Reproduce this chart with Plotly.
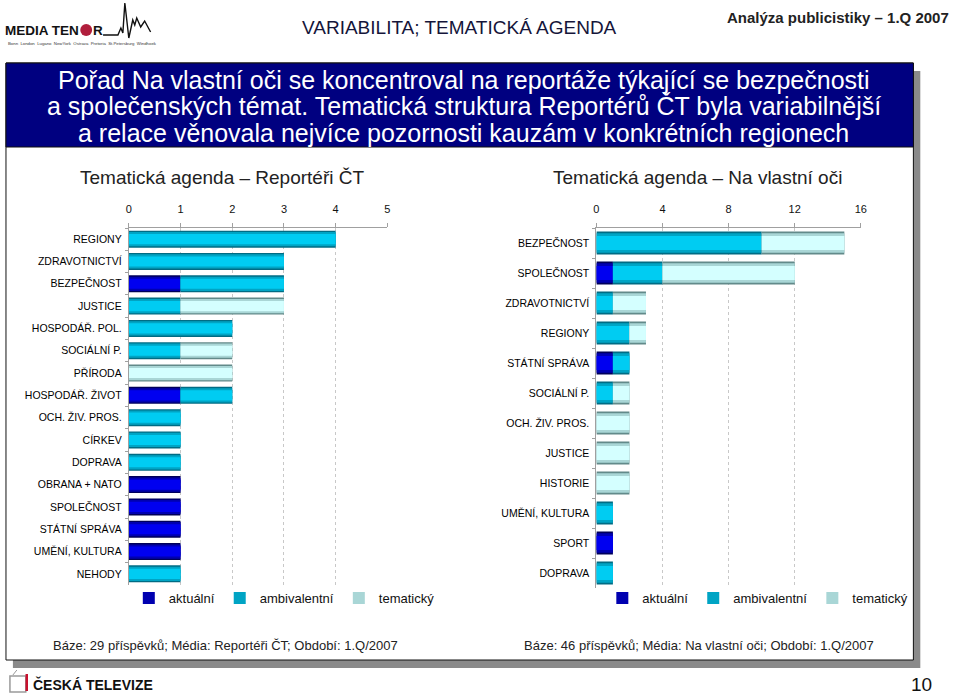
import numpy as np
import plotly.graph_objects as go

W, H = 959, 696

# ---------------- data ----------------
series_names = ["aktuální", "ambivalentní", "tematický"]

left_categories = ["REGIONY", "ZDRAVOTNICTVÍ", "BEZPEČNOST", "JUSTICE", "HOSPODÁŘ. POL.",
                   "SOCIÁLNÍ P.", "PŘÍRODA", "HOSPODÁŘ. ŽIVOT", "OCH. ŽIV. PROS.", "CÍRKEV",
                   "DOPRAVA", "OBRANA + NATO", "SPOLEČNOST", "STÁTNÍ SPRÁVA", "UMĚNÍ, KULTURA",
                   "NEHODY"]
left_aktualni = [0, 0, 1, 0, 0, 0, 0, 1, 0, 0, 0, 1, 1, 1, 1, 0]
left_ambivalentni = [4, 3, 2, 1, 2, 1, 0, 1, 1, 1, 1, 0, 0, 0, 0, 1]
left_tematicky = [0, 0, 0, 2, 0, 1, 2, 0, 0, 0, 0, 0, 0, 0, 0, 0]

right_categories = ["BEZPEČNOST", "SPOLEČNOST", "ZDRAVOTNICTVÍ", "REGIONY", "STÁTNÍ SPRÁVA",
                    "SOCIÁLNÍ P.", "OCH. ŽIV. PROS.", "JUSTICE", "HISTORIE", "UMĚNÍ, KULTURA",
                    "SPORT", "DOPRAVA"]
right_aktualni = [0, 1, 0, 0, 1, 0, 0, 0, 0, 0, 1, 0]
right_ambivalentni = [10, 3, 1, 2, 1, 1, 0, 0, 0, 1, 0, 1]
right_tematicky = [5, 8, 2, 1, 0, 1, 2, 2, 2, 0, 0, 0]

left_ticks = [0, 1, 2, 3, 4, 5]
right_ticks = [0, 4, 8, 12, 16]

left_title = "Tematická agenda – Reportéři ČT"
right_title = "Tematická agenda – Na vlastní oči"
left_note = "Báze: 29 příspěvků; Média: Reportéři ČT; Období: 1.Q/2007"
right_note = "Báze: 46 příspěvků; Média: Na vlastní oči; Období: 1.Q/2007"
headline_lines = ["Pořad Na vlastní oči se koncentroval na reportáže týkající se bezpečnosti",
                  "a společenských témat. Tematická struktura Reportérů ČT byla variabilnější",
                  "a relace věnovala nejvíce pozornosti kauzám v konkrétních regionech"]

# ---------------- styling ----------------
FONT = "Liberation Sans, Arial, Helvetica, sans-serif"
# (colour, relative thickness) layers imitating the cylindrical shading
shades = {
    "aktuální": [("#00005A", 1.0), ("#0000B0", 0.84), ("#0000F0", 0.6)],
    "ambivalentní": [("#006C84", 1.0), ("#00A4C4", 0.84), ("#00CCF2", 0.6)],
    "tematický": [("#628A8A", 1.0), ("#A9D6D6", 0.84), ("#D4FFFF", 0.6)],
}


def px(x):
    return x / W


def py(y):
    return 1 - y / H


fig = go.Figure()


def add_chart(cats, series, xa, ya, legend, bar_w):
    base = np.zeros(len(cats))
    for name, vals in zip(series_names, series):
        vals = np.array(vals, dtype=float)
        for li, (col, f) in enumerate(shades[name]):
            fig.add_trace(go.Bar(
                y=cats, x=vals, base=base, orientation="h",
                width=bar_w * f, marker=dict(color=col, line=dict(width=0)),
                opacity=1, name=name, legend=legend, legendgroup=legend + name,
                showlegend=(li == 1), xaxis=xa, yaxis=ya, hoverinfo="skip"))
        base = base + vals


add_chart(left_categories, [left_aktualni, left_ambivalentni, left_tematicky],
          "x", "y", "legend", 0.76)
add_chart(right_categories, [right_aktualni, right_ambivalentni, right_tematicky],
          "x2", "y2", "legend2", 0.77)

xcommon = dict(side="top", showgrid=True, gridcolor="#c8c8c8", griddash="dot", gridwidth=1,
               showline=True, linecolor="#a0a0a0", linewidth=1, ticks="outside", ticklen=4,
               tickcolor="#a0a0a0", tickfont=dict(family=FONT, size=11, color="#111"),
               zeroline=False, fixedrange=True, ticklabelstandoff=6)
ycommon = dict(autorange="reversed", showline=True, linecolor="#a0a0a0", linewidth=1,
               ticks="outside", ticklen=3, tickcolor="#a0a0a0", tickson="boundaries",
               tickfont=dict(family=FONT, size=10.5, color="#000"), showgrid=False,
               fixedrange=True, ticklabelstandoff=4)

fig.update_layout(
    width=W, height=H, margin=dict(l=0, r=0, t=0, b=0),
    paper_bgcolor="white", plot_bgcolor="rgba(0,0,0,0)",
    barmode="overlay", bargap=0.24,
    font=dict(family=FONT, color="#111"),
    xaxis=dict(domain=[px(127), px(388)], range=[0, 5], tickvals=left_ticks, anchor="y", **xcommon),
    yaxis=dict(domain=[py(585), py(228)], anchor="x", categoryorder="array",
               categoryarray=left_categories, **ycommon),
    xaxis2=dict(domain=[px(599), px(866)], range=[0, 16], tickvals=right_ticks, anchor="y2", **xcommon),
    yaxis2=dict(domain=[py(588), py(228)], anchor="x2", categoryorder="array",
                categoryarray=right_categories, **ycommon),
    legend=dict(orientation="h", x=px(127), y=py(598), xanchor="left", yanchor="middle",
                font=dict(family=FONT, size=13, color="#111"), bgcolor="rgba(0,0,0,0)",
                traceorder="normal", itemclick=False, itemdoubleclick=False),
    legend2=dict(orientation="h", x=px(605), y=py(598), xanchor="left", yanchor="middle",
                 font=dict(family=FONT, size=13, color="#111"), bgcolor="rgba(0,0,0,0)",
                 traceorder="normal", itemclick=False, itemdoubleclick=False),
    showlegend=True,
)

shapes = [
    # shadow
    dict(type="rect", xref="paper", yref="paper", x0=px(10), x1=px(926), y0=py(668), y1=py(71),
         fillcolor="#8a8a8a", line=dict(width=0), layer="below"),
    # white frame
    dict(type="rect", xref="paper", yref="paper", x0=px(3), x1=px(919), y0=py(660), y1=py(63),
         fillcolor="white", line=dict(color="#111", width=1), layer="below"),
    # headline box
    dict(type="rect", xref="paper", yref="paper", x0=px(3), x1=px(919), y0=py(147), y1=py(63),
         fillcolor="#000080", line=dict(color="#111", width=1), layer="below"),
    # Media Tenor red circle
    dict(type="circle", xref="paper", yref="paper", x0=px(78), x1=px(90), y0=py(36), y1=py(24),
         fillcolor="#B01E3C", line=dict(width=0)),
]
# seismograph line of the logo
pts = [(101, 35), (116, 35), (119, 28), (121, 33), (123, 3), (127, 38), (131, 20), (133, 25),
       (135, 18), (139, 27), (143, 21), (149, 32)]
path = "M " + " L ".join(f"{px(a):.5f},{py(b):.5f}" for a, b in pts)
shapes.append(dict(type="path", xref="paper", yref="paper", path=path,
                   line=dict(color="#111", width=1.4)))
# Česká televize icon
shapes.append(dict(type="rect", xref="paper", yref="paper", x0=px(7), x1=px(23), y0=py(692), y1=py(676),
                   line=dict(color="#9a9a9a", width=1.5), fillcolor="white"))
shapes.append(dict(type="line", xref="paper", yref="paper", x0=px(24), x1=px(24), y0=py(691), y1=py(674),
                   line=dict(color="#C8102E", width=2.5)))
shapes.append(dict(type="line", xref="paper", yref="paper", x0=px(10), x1=px(14), y0=py(675), y1=py(670),
                   line=dict(color="#9a9a9a", width=1)))
fig.update_layout(shapes=shapes)


def ann(text, x, y, size, color="#111", xanchor="left", yanchor="middle", bold=False,
        align="left", family=FONT):
    if bold:
        text = f"<b>{text}</b>"
    fig.add_annotation(text=text, x=px(x), y=py(y), xref="paper", yref="paper",
                       xanchor=xanchor, yanchor=yanchor, showarrow=False, align=align,
                       font=dict(family=family, size=size, color=color))


# header
ann("MEDIA TEN", 79, 30, 13.5, color="#111", bold=True, xanchor="right")
ann("R", 89, 30, 13.5, color="#111", bold=True)
ann("Bonn  London  Lugano  NewYork  Ostrava  Pretoria  St.Petersburg  Windhoek", 3, 44, 4.3, color="#333")
ann("VARIABILITA; TEMATICKÁ AGENDA", 461, 27, 19, color="#15153a", xanchor="center")
ann("Analýza publicistiky – 1.Q 2007", 957, 17, 15, color="#222", xanchor="right", bold=True)
# headline
for txt, yy in zip(headline_lines, [80, 106, 133]):
    ann(txt, 465, yy, 25, color="white", xanchor="center", align="center")
# chart titles
ann(left_title, 221, 177, 19, color="#222", xanchor="center")
ann(right_title, 701, 177, 19, color="#222", xanchor="center")
# notes
ann(left_note, 48, 645, 13, color="#222")
ann(right_note, 524, 645, 13, color="#222")
# footer
ann("ČESKÁ TELEVIZE", 28, 684, 14, color="#111", bold=True)
ann("10", 940, 684, 19, color="#111", xanchor="right")

fig.write_html("out.html", config={"displayModeBar": False},
               post_script="document.body.style.margin='0';document.body.style.padding='0';"
                           "document.body.style.overflow='hidden';"
                           "document.documentElement.style.overflow='hidden';")
